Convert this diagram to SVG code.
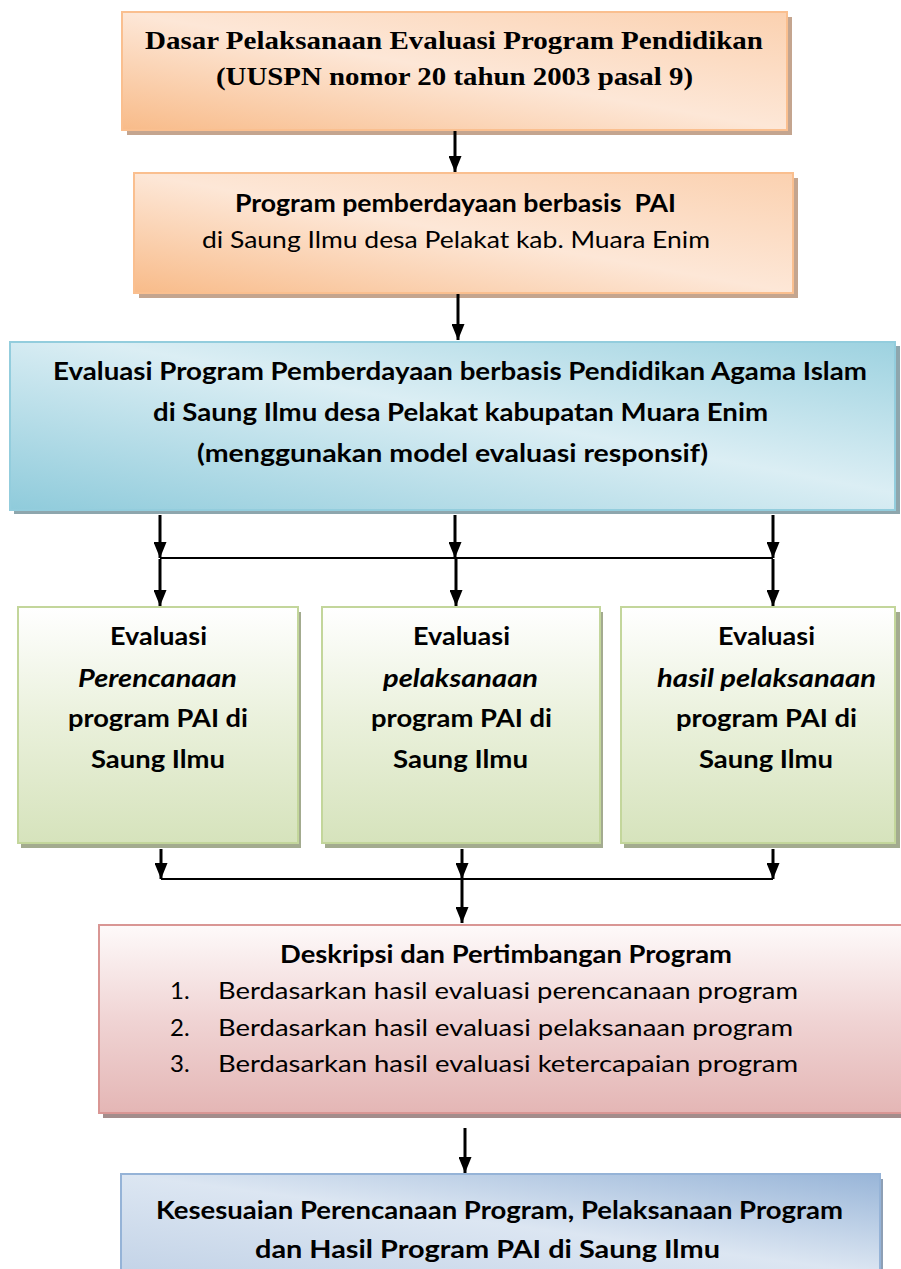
<svg xmlns="http://www.w3.org/2000/svg" width="901" height="1269" viewBox="0 0 901 1269">
<style>
.b{font-family:Lato,"Open Sans","Liberation Sans",sans-serif;font-weight:bold;font-size:24px;fill:#000}
.r{font-family:Lato,"Open Sans","Liberation Sans",sans-serif;font-weight:normal;font-size:24px;fill:#000}
.t{font-family:"Liberation Serif","Times New Roman",serif;font-weight:bold;font-size:26px;fill:#000}
.i{font-style:italic}
.c{stroke:#000;fill:none}
.v{stroke-width:3}
.h{stroke-width:2}
</style>
<defs>
<linearGradient id="gOr" x1="0" y1="1" x2="1" y2="0">
<stop offset="0" stop-color="#f8bb89"/><stop offset="0.5" stop-color="#fde7d7"/><stop offset="1" stop-color="#fbd1b0"/>
</linearGradient>
<linearGradient id="gBl" x1="0" y1="1" x2="1" y2="0">
<stop offset="0" stop-color="#8fcbdb"/><stop offset="0.55" stop-color="#dbeef4"/><stop offset="1" stop-color="#9dd2e0"/>
</linearGradient>
<linearGradient id="gGr" x1="0" y1="0" x2="0" y2="1">
<stop offset="0" stop-color="#ffffff"/><stop offset="0.5" stop-color="#e9f0da"/><stop offset="1" stop-color="#d6e3bc"/>
</linearGradient>
<linearGradient id="gPk" x1="0" y1="0" x2="0" y2="1">
<stop offset="0" stop-color="#fefafa"/><stop offset="0.5" stop-color="#f0d4d4"/><stop offset="1" stop-color="#e4b6b5"/>
</linearGradient>
<linearGradient id="gB5" x1="0" y1="1" x2="1" y2="0">
<stop offset="0" stop-color="#c3d3e7"/><stop offset="0.5" stop-color="#dce6f2"/><stop offset="1" stop-color="#98b5d8"/>
</linearGradient>
<marker id="ah" markerWidth="16" markerHeight="13" refX="16" refY="6.5" orient="auto" markerUnits="userSpaceOnUse" viewBox="0 0 16 13">
<path d="M0,0 L16,6.5 L0,13 z" fill="#000"/>
</marker>
</defs>

<g id="node1">
<rect x="127" y="17" width="665" height="118" fill="#c4a58f"/>
<rect x="122" y="12" width="665" height="118" fill="url(#gOr)" stroke="#fabf8f" stroke-width="2"/>
<text class="t" x="145" y="49" textLength="618" lengthAdjust="spacingAndGlyphs">Dasar Pelaksanaan Evaluasi Program Pendidikan</text>
<text class="t" x="216" y="85" textLength="477" lengthAdjust="spacingAndGlyphs">(UUSPN nomor 20 tahun 2003 pasal 9)</text>
</g>

<g id="node2">
<rect x="139" y="178" width="659" height="120" fill="#c4a58f"/>
<rect x="134" y="173" width="659" height="120" fill="url(#gOr)" stroke="#fabf8f" stroke-width="2"/>
<text class="b" x="235" y="212" textLength="441" lengthAdjust="spacingAndGlyphs" style="white-space:pre">Program pemberdayaan berbasis  PAI</text>
<text class="r" x="202" y="248" textLength="508" lengthAdjust="spacingAndGlyphs">di Saung Ilmu desa Pelakat kab. Muara Enim</text>
</g>

<g id="node3">
<rect x="14" y="346" width="886" height="168" fill="#8ea6ad"/>
<rect x="10" y="342" width="885" height="168" fill="url(#gBl)" stroke="#93cddd" stroke-width="2"/>
<text class="b" x="53" y="380" textLength="814" lengthAdjust="spacingAndGlyphs">Evaluasi Program Pemberdayaan berbasis Pendidikan Agama Islam</text>
<text class="b" x="153" y="421" textLength="615" lengthAdjust="spacingAndGlyphs">di Saung Ilmu desa Pelakat kabupatan Muara Enim</text>
<text class="b" x="197" y="462" textLength="511" lengthAdjust="spacingAndGlyphs">(menggunakan model evaluasi responsif)</text>
</g>

<g id="node4">
<rect x="21" y="612" width="280" height="236" fill="#a3ab8f"/>
<rect x="18" y="607" width="280" height="236" fill="url(#gGr)" stroke="#c3d69b" stroke-width="2"/>
<text class="b" x="110" y="645" textLength="97" lengthAdjust="spacingAndGlyphs">Evaluasi</text>
<text class="b i" x="78" y="687" textLength="159" lengthAdjust="spacingAndGlyphs">Perencanaan</text>
<text class="b" x="68" y="727" textLength="180" lengthAdjust="spacingAndGlyphs">program PAI di</text>
<text class="b" x="91" y="768" textLength="134" lengthAdjust="spacingAndGlyphs">Saung Ilmu</text>
</g>

<g id="node5">
<rect x="325" y="612" width="278" height="236" fill="#a3ab8f"/>
<rect x="322" y="607" width="278" height="236" fill="url(#gGr)" stroke="#c3d69b" stroke-width="2"/>
<text class="b" x="413" y="645" textLength="97" lengthAdjust="spacingAndGlyphs">Evaluasi</text>
<text class="b i" x="383" y="687" textLength="155" lengthAdjust="spacingAndGlyphs">pelaksanaan</text>
<text class="b" x="371" y="727" textLength="181" lengthAdjust="spacingAndGlyphs">program PAI di</text>
<text class="b" x="393" y="768" textLength="135" lengthAdjust="spacingAndGlyphs">Saung Ilmu</text>
</g>

<g id="node6">
<rect x="624" y="612" width="276" height="236" fill="#a3ab8f"/>
<rect x="621" y="607" width="274" height="236" fill="url(#gGr)" stroke="#c3d69b" stroke-width="2"/>
<text class="b" x="718" y="645" textLength="97" lengthAdjust="spacingAndGlyphs">Evaluasi</text>
<text class="b i" x="657" y="687" textLength="219" lengthAdjust="spacingAndGlyphs">hasil pelaksanaan</text>
<text class="b" x="676" y="727" textLength="181" lengthAdjust="spacingAndGlyphs">program PAI di</text>
<text class="b" x="699" y="768" textLength="134" lengthAdjust="spacingAndGlyphs">Saung Ilmu</text>
</g>

<g id="node7">
<rect x="103" y="930" width="810" height="188" fill="#a38d8c"/>
<rect x="99" y="925" width="810" height="188" fill="url(#gPk)" stroke="#d99694" stroke-width="2"/>
<text class="b" x="280" y="963" textLength="452" lengthAdjust="spacingAndGlyphs">Deskripsi dan Pertimbangan Program</text>
<text class="r" x="170" y="999">1.</text>
<text class="r" x="218" y="999" textLength="580" lengthAdjust="spacingAndGlyphs">Berdasarkan hasil evaluasi perencanaan program</text>
<text class="r" x="170" y="1036">2.</text>
<text class="r" x="218" y="1036" textLength="575" lengthAdjust="spacingAndGlyphs">Berdasarkan hasil evaluasi pelaksanaan program</text>
<text class="r" x="170" y="1072">3.</text>
<text class="r" x="218" y="1072" textLength="580" lengthAdjust="spacingAndGlyphs">Berdasarkan hasil evaluasi ketercapaian program</text>
</g>

<g id="node8">
<rect x="124" y="1179" width="759" height="100" fill="#8d9fb5"/>
<rect x="121" y="1174" width="759" height="100" fill="url(#gB5)" stroke="#95b3d7" stroke-width="2"/>
<text class="b" x="156" y="1219" textLength="687" lengthAdjust="spacingAndGlyphs">Kesesuaian Perencanaan Program, Pelaksanaan Program</text>
<text class="b" x="255" y="1258" textLength="465" lengthAdjust="spacingAndGlyphs">dan Hasil Program PAI di Saung Ilmu</text>
</g>

<g id="connectors">
<line class="c v" x1="455" y1="131" x2="455" y2="172" marker-end="url(#ah)"/>
<line class="c v" x1="458" y1="294" x2="458" y2="340" marker-end="url(#ah)"/>
<line class="c v" x1="160" y1="515" x2="160" y2="558" marker-end="url(#ah)"/>
<line class="c v" x1="455" y1="515" x2="455" y2="558" marker-end="url(#ah)"/>
<line class="c v" x1="773" y1="515" x2="773" y2="558" marker-end="url(#ah)"/>
<line class="c h" x1="160" y1="558" x2="773" y2="558"/>
<line class="c v" x1="160" y1="559" x2="160" y2="606" marker-end="url(#ah)"/>
<line class="c v" x1="456" y1="559" x2="456" y2="606" marker-end="url(#ah)"/>
<line class="c v" x1="773" y1="559" x2="773" y2="606" marker-end="url(#ah)"/>
<line class="c v" x1="161" y1="849" x2="161" y2="879" marker-end="url(#ah)"/>
<line class="c v" x1="462" y1="849" x2="462" y2="879" marker-end="url(#ah)"/>
<line class="c v" x1="773" y1="849" x2="773" y2="879" marker-end="url(#ah)"/>
<line class="c h" x1="161" y1="879" x2="773" y2="879"/>
<line class="c v" x1="462" y1="879" x2="462" y2="923" marker-end="url(#ah)"/>
<line class="c v" x1="465" y1="1128" x2="465" y2="1173" marker-end="url(#ah)"/>
</g>
</svg>
